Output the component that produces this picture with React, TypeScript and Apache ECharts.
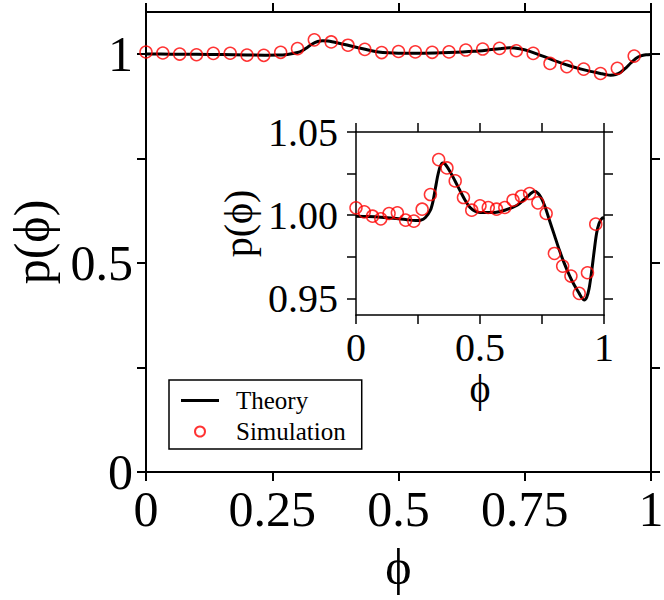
import React, { useEffect, useRef } from "react";
import * as echarts from "echarts";

// Theory curve p(phi)
const thX = [0, 0.05, 0.1, 0.15, 0.2, 0.24, 0.26, 0.28, 0.3, 0.31, 0.32, 0.33, 0.34, 0.35, 0.36, 0.38, 0.4, 0.42, 0.44, 0.46, 0.48, 0.5, 0.55, 0.6, 0.65, 0.68, 0.7, 0.72, 0.74, 0.76, 0.78, 0.8, 0.82, 0.84, 0.86, 0.88, 0.9, 0.91, 0.92, 0.93, 0.94, 0.95, 0.96, 0.97, 0.98, 0.99, 1.0];
const thY = [0.9994, 0.9992, 0.9988, 0.9982, 0.9974, 0.9968, 0.997, 0.9986, 1.003, 1.008, 1.016, 1.024, 1.0294, 1.0314, 1.0306, 1.026, 1.0204, 1.0146, 1.009, 1.0046, 1.0024, 1.0016, 1.0016, 1.003, 1.006, 1.0096, 1.0124, 1.0144, 1.012, 1.006, 0.997, 0.988, 0.979, 0.971, 0.964, 0.958, 0.953, 0.9505, 0.949, 0.9505, 0.956, 0.966, 0.978, 0.989, 0.995, 0.9978, 0.9986];

// Simulation points
const simX = [0, 0.0333, 0.0667, 0.1, 0.1333, 0.1667, 0.2, 0.2333, 0.2667, 0.3, 0.3333, 0.3667, 0.4, 0.4333, 0.4667, 0.5, 0.5333, 0.5667, 0.6, 0.6333, 0.6667, 0.7, 0.7333, 0.7667, 0.8, 0.8333, 0.8667, 0.9, 0.9333, 0.9667];
const simY = [1.0044, 1.002, 0.9994, 0.9978, 1.001, 1.0014, 0.997, 0.9964, 1.0036, 1.0124, 1.0334, 1.0284, 1.0206, 1.0106, 1.003, 1.0056, 1.0046, 1.0036, 1.0046, 1.009, 1.0114, 1.013, 1.0074, 1.001, 0.977, 0.9694, 0.9634, 0.953, 0.9654, 0.9946];

// Ticks and labels
const mainXTicks = [0, 0.25, 0.5, 0.75, 1];
const mainXLabels = [0, 0.25, 0.5, 0.75, 1];
const mainYTicks = [0, 0.25, 0.5, 0.75, 1];
const mainYLabels = [0, 0.5, 1];
const insetXTicks = [0, 0.25, 0.5, 0.75, 1];
const insetXLabels = [0, 0.5, 1];
const insetYTicks = [0.95, 0.975, 1.0, 1.025, 1.05];
const insetYLabels = [0.95, 1.0, 1.05];

const FONT = "'Liberation Serif', 'Times New Roman', 'DejaVu Serif', serif";

function axis(o: any) {
  const lw = o.lw;
  return {
    type: "value",
    gridIndex: o.grid,
    position: o.position,
    min: o.min,
    max: o.max,
    splitLine: { show: false },
    axisLine: { show: true, onZero: false, lineStyle: { color: "#000", width: lw } },
    axisTick: {
      show: true,
      inside: false,
      length: 9,
      customValues: o.ticks,
      lineStyle: { color: "#000", width: lw },
    },
    axisLabel: {
      show: !!o.labels,
      customValues: o.labels || o.ticks,
      formatter: o.fmt,
      fontSize: o.fs,
      fontFamily: FONT,
      color: "#000",
      margin: o.margin,
    },
    name: o.name,
    nameLocation: "middle",
    nameGap: o.nameGap,
    nameTextStyle: { fontSize: o.nfs, fontFamily: FONT, color: "#000" },
  };
}

export default function App() {
  const ref = useRef<HTMLDivElement>(null);
  useEffect(() => {
    if (!ref.current) return;
    const chart = echarts.init(ref.current, null, { renderer: "svg" });
    const theory = thX.map((x, i) => [x, thY[i]]);
    const sim = simX.map((x, i) => [x, simY[i]]);
    const plain = (v: number) => String(v);
    const two = (v: number) => v.toFixed(2);
    const option: any = {
      animation: false,
      backgroundColor: "#fff",
      grid: [
        { left: 146, top: 12, width: 505, height: 460, outerBoundsMode: "none", containLabel: false },
        { left: 356, top: 132, width: 248, height: 183, outerBoundsMode: "none", containLabel: false },
      ],
      xAxis: [
        axis({ grid: 0, position: "bottom", min: 0, max: 1, lw: 2, ticks: mainXTicks, labels: mainXLabels, fmt: plain, fs: 50, margin: 12, name: "ϕ", nameGap: 70, nfs: 50 }),
        axis({ grid: 0, position: "top", min: 0, max: 1, lw: 2, ticks: mainXTicks }),
        axis({ grid: 1, position: "bottom", min: 0, max: 1, lw: 1.5, ticks: insetXTicks, labels: insetXLabels, fmt: plain, fs: 40, margin: 12, name: "ϕ", nameGap: 53, nfs: 40 }),
        axis({ grid: 1, position: "top", min: 0, max: 1, lw: 1.5, ticks: insetXTicks }),
      ],
      yAxis: [
        axis({ grid: 0, position: "left", min: 0, max: 1.1, lw: 2, ticks: mainYTicks, labels: mainYLabels, fmt: plain, fs: 50, margin: 13, name: "p(ϕ)", nameGap: 89, nfs: 50 }),
        axis({ grid: 0, position: "right", min: 0, max: 1.1, lw: 2, ticks: mainYTicks }),
        axis({ grid: 1, position: "left", min: 0.94, max: 1.05, lw: 1.5, ticks: insetYTicks, labels: insetYLabels, fmt: two, fs: 40, margin: 18, name: "p(ϕ)", nameGap: 98, nfs: 40 }),
        axis({ grid: 1, position: "right", min: 0.94, max: 1.05, lw: 1.5, ticks: insetYTicks }),
      ],
      legend: {
        orient: "vertical",
        left: 169,
        top: 380,
        padding: [8, 16, 5, 12],
        itemGap: 6,
        itemWidth: 38,
        itemHeight: 10,
        backgroundColor: "#fff",
        borderColor: "#000",
        borderWidth: 1.5,
        borderRadius: 0,
        textStyle: { fontSize: 25, fontFamily: FONT, color: "#000", padding: [0, 0, 0, 12] },
        data: [
          { name: "Theory", icon: "path://M0 0H38V3H0Z", itemStyle: { color: "#000" } },
          { name: "Simulation" },
        ],
      },
      series: [
        {
          name: "Theory",
          type: "line",
          xAxisIndex: 0,
          yAxisIndex: 0,
          data: theory,
          smooth: 0.3,
          showSymbol: false,
          symbol: "none",
          lineStyle: { color: "#000", width: 3 },
          itemStyle: { color: "#000" },
          z: 3,
        },
        {
          name: "Simulation",
          type: "scatter",
          xAxisIndex: 0,
          yAxisIndex: 0,
          data: sim,
          symbol: "circle",
          symbolSize: 12,
          itemStyle: { color: "transparent", borderColor: "#ff0000", borderWidth: 1.5 },
          z: 4,
        },
        {
          name: "Theory",
          type: "line",
          xAxisIndex: 2,
          yAxisIndex: 2,
          data: theory,
          smooth: 0.3,
          showSymbol: false,
          symbol: "none",
          lineStyle: { color: "#000", width: 3 },
          itemStyle: { color: "#000" },
          z: 3,
        },
        {
          name: "Simulation",
          type: "scatter",
          xAxisIndex: 2,
          yAxisIndex: 2,
          data: sim,
          symbol: "circle",
          symbolSize: 12,
          itemStyle: { color: "transparent", borderColor: "#ff0000", borderWidth: 1.5 },
          z: 4,
        },
      ],
    };
    chart.setOption(option);
    return () => chart.dispose();
  }, []);
  return (
    <div
      ref={ref}
      style={{ position: "fixed", left: 0, top: 0, width: 664, height: 600, background: "#fff" }}
    />
  );
}
